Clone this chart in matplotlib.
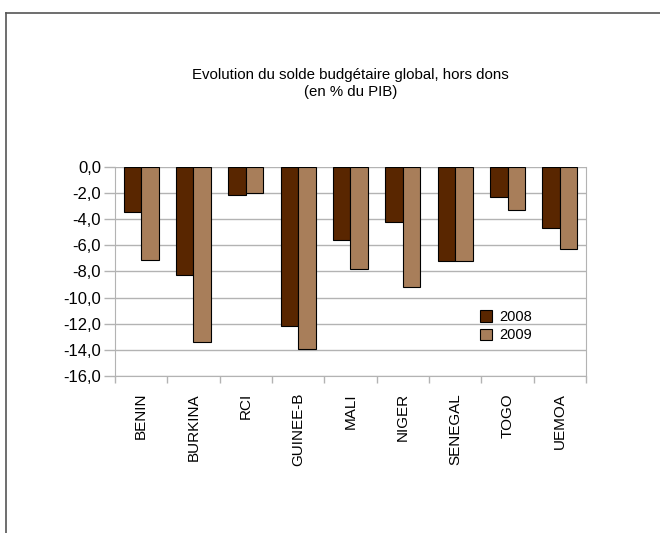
import numpy as np
import matplotlib.pyplot as plt
from matplotlib.lines import Line2D

plt.rcParams['font.family'] = ['Liberation Sans', 'DejaVu Sans']

# === Data ===
pays = ["BENIN", "BURKINA", "RCI", "GUINEE-B", "MALI", "NIGER", "SENEGAL", "TOGO", "UEMOA"]
solde_2008 = [-3.5, -8.3, -2.2, -12.2, -5.6, -4.2, -7.2, -2.3, -4.7]
solde_2009 = [-7.1, -13.4, -2.0, -13.9, -7.8, -9.2, -7.2, -3.3, -6.3]
yticks = [0, -2, -4, -6, -8, -10, -12, -14, -16]

col_2008 = "#592600"
col_2009 = "#a87e5a"

fig = plt.figure(figsize=(6.6, 5.33), dpi=100)
ax = fig.add_axes([0.1742, 0.2946, 0.7137, 0.3926])

x = np.arange(len(pays))
w = 0.335
ax.bar(x - w / 2, solde_2008, w, color=col_2008, edgecolor="black", linewidth=0.8, label="2008", zorder=3)
ax.bar(x + w / 2, solde_2009, w, color=col_2009, edgecolor="black", linewidth=0.8, label="2009", zorder=3)

ax.set_xlim(-0.5, len(pays) - 0.5)
ax.set_ylim(-16, 0)
ax.set_yticks(yticks)
ax.set_yticklabels([f"{v:.1f}".replace(".", ",") for v in yticks], fontsize=12)
ax.yaxis.grid(True, color="#b3b3b3", linewidth=1, zorder=0)

# category boundaries as ticks below the axis
ax.set_xticks(np.arange(len(pays) + 1) - 0.5)
ax.set_xticklabels([])
ax.tick_params(axis="x", length=5, color="#b3b3b3", width=1)
ax.tick_params(axis="y", length=8, color="#b3b3b3", width=1, pad=2)
for i, name in enumerate(pays):
    ax.text(i, -17.3, name, rotation=90, ha="center", va="top", fontsize=11)

for side in ["left", "right", "bottom"]:
    ax.spines[side].set_color("#b3b3b3")
ax.spines["top"].set_visible(False)

ax.set_title("Evolution du solde budgétaire global, hors dons\n(en % du PIB)",
             fontsize=10.8, pad=51, linespacing=1.3)

ax.legend(loc="upper left", bbox_to_anchor=(0.76, 0.35), frameon=False,
          fontsize=10.5, handlelength=0.8, handleheight=0.8, handletextpad=0.5,
          labelspacing=0.3, borderpad=0)

# outer frame
fig.add_artist(Line2D([6 / 660, 1], [1 - 12.5 / 533] * 2, color="#555555", linewidth=1.2))
fig.add_artist(Line2D([6.5 / 660] * 2, [0, 1 - 12.5 / 533], color="#555555", linewidth=1.2))

fig.savefig("out.png", dpi=100)
